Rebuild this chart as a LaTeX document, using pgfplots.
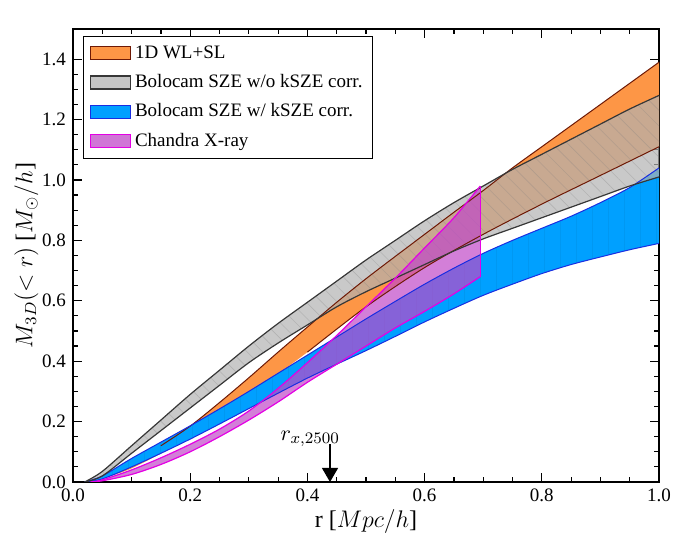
\documentclass[border=0pt]{standalone}
\usepackage{fontspec}
\setmainfont{Liberation Serif}
\usepackage{pgfplots}
\pgfplotsset{compat=1.18}
\usepgfplotslibrary{fillbetween}
\usetikzlibrary{arrows.meta,patterns.meta}
\definecolor{orfill}{RGB}{253,150,70}
\definecolor{oredge}{RGB}{110,25,5}
\definecolor{grfill}{RGB}{178,178,178}
\definecolor{gredge}{RGB}{55,55,55}
\definecolor{blfill}{RGB}{0,160,255}
\definecolor{bledge}{RGB}{25,45,225}
\definecolor{mafill}{RGB}{192,72,200}
\definecolor{maedge}{RGB}{228,0,228}
\begin{document}
\begin{tikzpicture}
\begin{axis}[
  name=ax, scale only axis, width=293pt, height=226.5pt,
  xmin=0, xmax=1, ymin=0, ymax=1.5,
  xtick={0,0.2,0.4,0.6,0.8,1.0}, ytick={0,0.2,0.4,0.6,0.8,1.0,1.2,1.4},
  minor x tick num=3, minor y tick num=3,
  tick align=inside, major tick length=4.5pt, minor tick length=2.5pt,
  axis line style={line width=0.7pt},
  every tick/.style={line width=0.6pt, black},
  /pgf/number format/assume math mode=true,
  ticklabel style={font=\fontsize{9.5}{11}\selectfont},
  xticklabel style={/pgf/number format/.cd,fixed,fixed zerofill,precision=1},
  yticklabel style={/pgf/number format/.cd,fixed,fixed zerofill,precision=1},
  xlabel={r [$Mpc/h$]}, ylabel={$M_{3D}(<r)$ [$M_\odot/h$]},
  label style={font=\fontsize{12}{14}\selectfont},
  xlabel style={yshift=3pt},
  ylabel style={yshift=-5pt},
  legend image code/.code={\draw[#1] (0pt,-3.25pt) rectangle (20pt,3.25pt);},
  legend style={at={(0.017,0.985)}, anchor=north west, draw=black, line width=0.7pt,
    font=\fontsize{9.5}{11}\selectfont, inner xsep=3pt, inner ysep=2.5pt, row sep=2.6pt,
    cells={anchor=west}},
  legend cell align=left,
]
% 1D WL+SL
\addplot[name path=oru, draw=none, smooth, forget plot] coordinates {
(0.03,0) (0.05,0.01) (0.1,0.06) (0.15,0.12) (0.2,0.185) (0.25,0.263) (0.3,0.345) (0.35,0.43) (0.4,0.513) (0.45,0.595) (0.5,0.673) (0.55,0.747) (0.6,0.82) (0.65,0.893) (0.7,0.965) (0.75,1.04) (0.8,1.11) (0.85,1.18) (0.9,1.25) (0.95,1.32) (1.0,1.39)};
\addplot[draw=oredge, line width=0.5pt, smooth, forget plot] coordinates {
(0.15,0.12) (0.2,0.185) (0.25,0.263) (0.3,0.345) (0.35,0.43) (0.4,0.513) (0.45,0.595) (0.5,0.673) (0.55,0.747) (0.6,0.82) (0.65,0.893) (0.7,0.965) (0.75,1.04) (0.8,1.11) (0.85,1.18) (0.9,1.25) (0.95,1.32) (1.0,1.39)};
\addplot[name path=orl, draw=none, smooth, forget plot] coordinates {
(0.03,0) (0.1,0.045) (0.2,0.15) (0.3,0.285) (0.4,0.43) (0.5,0.58) (0.6,0.71) (0.7,0.82) (0.8,0.92) (0.9,1.015) (1.0,1.11)};
\addplot[draw=oredge, line width=0.5pt, smooth, forget plot] coordinates {
(0.4,0.43) (0.5,0.58) (0.6,0.71) (0.7,0.82) (0.8,0.92) (0.9,1.015) (1.0,1.11)};
\addplot[fill=orfill, forget plot] fill between[of=oru and orl];
% Bolocam w/ kSZE
\addplot[name path=blu, draw=bledge, line width=0.5pt, smooth, forget plot] coordinates {
(0.02,0) (0.05,0.02) (0.1,0.078) (0.15,0.132) (0.2,0.186) (0.25,0.242) (0.3,0.30) (0.35,0.36) (0.4,0.42) (0.45,0.48) (0.5,0.54) (0.55,0.598) (0.6,0.655) (0.65,0.708) (0.7,0.757) (0.75,0.80) (0.8,0.84) (0.85,0.88) (0.9,0.925) (0.95,0.975) (1.0,1.04)};
\addplot[name path=bll, draw=bledge, line width=0.5pt, smooth, forget plot] coordinates {
(0.02,0) (0.05,0.01) (0.1,0.05) (0.15,0.095) (0.2,0.142) (0.25,0.192) (0.3,0.243) (0.35,0.294) (0.4,0.344) (0.45,0.39) (0.5,0.435) (0.55,0.482) (0.6,0.53) (0.65,0.575) (0.7,0.618) (0.75,0.655) (0.8,0.69) (0.85,0.72) (0.9,0.745) (0.95,0.769) (1.0,0.79)};
\addplot[fill=blfill, forget plot] fill between[of=blu and bll];
\addplot[draw=none, pattern={Lines[angle=90,distance=8pt,line width=0.25pt]}, pattern color=blfill!75!black, opacity=0.2, forget plot] fill between[of=blu and bll];
% Bolocam w/o kSZE
\addplot[name path=gru, draw=gredge, line width=0.6pt, smooth, forget plot] coordinates {
(0.02,0) (0.05,0.035) (0.1,0.12) (0.15,0.205) (0.2,0.29) (0.25,0.37) (0.3,0.45) (0.35,0.525) (0.4,0.595) (0.45,0.665) (0.5,0.735) (0.55,0.80) (0.6,0.865) (0.65,0.925) (0.7,0.98) (0.75,1.035) (0.8,1.085) (0.85,1.135) (0.9,1.185) (0.95,1.235) (1.0,1.28)};
\addplot[name path=grl, draw=gredge, line width=0.6pt, smooth, forget plot] coordinates {
(0.02,0) (0.05,0.02) (0.1,0.095) (0.15,0.17) (0.2,0.245) (0.25,0.32) (0.3,0.395) (0.35,0.46) (0.4,0.52) (0.45,0.58) (0.5,0.63) (0.55,0.675) (0.6,0.72) (0.65,0.765) (0.7,0.805) (0.75,0.84) (0.8,0.875) (0.85,0.91) (0.9,0.945) (0.95,0.98) (1.0,1.01)};
\addplot[fill=grfill, fill opacity=0.7, forget plot] fill between[of=gru and grl];
\addplot[draw=none, pattern={Lines[angle=-45,distance=5.5pt,line width=0.3pt]}, pattern color=gray, opacity=0.3, forget plot] fill between[of=gru and grl];
% Chandra X-ray
\addplot[name path=mau, draw=maedge, line width=0.6pt, smooth, forget plot] coordinates {
(0.03,0) (0.05,0.007) (0.1,0.04) (0.15,0.08) (0.2,0.125) (0.25,0.175) (0.3,0.235) (0.35,0.31) (0.4,0.395) (0.45,0.485) (0.5,0.58) (0.55,0.675) (0.6,0.775) (0.65,0.875) (0.695,0.98)};
\addplot[name path=mal, draw=maedge, line width=0.6pt, smooth, forget plot] coordinates {
(0.03,0) (0.05,0.004) (0.1,0.025) (0.15,0.058) (0.2,0.10) (0.25,0.15) (0.3,0.205) (0.35,0.265) (0.4,0.33) (0.45,0.39) (0.5,0.45) (0.55,0.51) (0.6,0.565) (0.65,0.623) (0.695,0.68)};
\addplot[draw=maedge, line width=0.6pt, forget plot] coordinates {(0.695,0.68) (0.695,0.98)};
\addplot[fill=mafill, fill opacity=0.7, forget plot] fill between[of=mau and mal];
\addlegendimage{fill=orfill, draw=oredge, line width=0.7pt}
\addlegendentry{1D WL+SL}
\addlegendimage{fill=grfill!75, draw=gredge, line width=0.7pt}
\addlegendentry{Bolocam SZE w/o kSZE corr.}
\addlegendimage{fill=blfill, draw=bledge, line width=0.7pt}
\addlegendentry{Bolocam SZE w/ kSZE corr.}
\addlegendimage{fill=mafill!75, draw=maedge, line width=0.7pt}
\addlegendentry{Chandra X-ray}
\draw[-{Triangle[width=8pt,length=7pt]}, line width=0.6pt] (axis cs:0.4386,0.125) -- (axis cs:0.4386,0);
\node[anchor=base, font=\fontsize{11}{13}\selectfont, inner sep=0pt] at (axis cs:0.405,0.138) {$r_{x,2500}$};
\node[anchor=south west, inner sep=1pt, font=\fontsize{9.5}{11}\selectfont] at (rel axis cs:0,1) {$\times10^{15}$};
\end{axis}
\path (ax.south west) ++(-36.5pt,-24.5pt) coordinate (bl);
\path (ax.north east) ++(16.5pt,14.5pt) coordinate (tr);
\useasboundingbox (bl) rectangle (tr);
\end{tikzpicture}
\end{document}
